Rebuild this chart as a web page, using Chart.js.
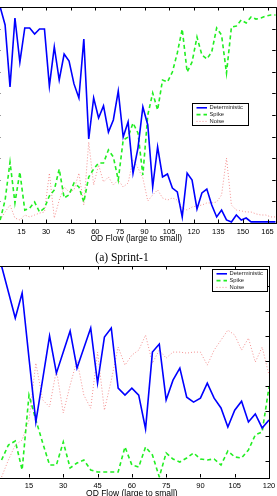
<!DOCTYPE html>
<html><head><meta charset="utf-8">
<script src="https://cdn.jsdelivr.net/npm/chart.js@4.4.1/dist/chart.umd.min.js"></script>
<style>
html,body{margin:0;padding:0;background:#fff;}
body{width:277px;height:496px;overflow:hidden;position:relative;}
#c1{position:absolute;left:-10px;top:0;}
#c2{position:absolute;left:-10px;top:258px;}
#cap{position:absolute;top:249px;left:0;width:244px;text-align:center;font-family:"Liberation Serif","Times New Roman",serif;font-size:11.5px;line-height:16px;color:#000;}
</style></head>
<body>
<canvas id="c1" width="300" height="252"></canvas>
<div id="cap">(a) Sprint-1</div>
<canvas id="c2" width="300" height="250"></canvas>
<script>
// ---------- data: Sprint-1 (top chart) ----------
const xFlows1 = [2,5,8,11,14,17,20,23,26,29,32,35,38,41,44,47,50,53,56,59,62,65,68,71,74,77,80,83,86,89,92,95,98,101,104,107,110,113,116,119,122,125,128,131,134,137,140,143,146,149,152,155,158,161,164,167,170];
const deterministic1 = [1.0,0.917,0.630,0.949,0.745,0.903,0.903,0.875,0.898,0.898,0.634,0.815,0.662,0.782,0.750,0.644,0.579,0.852,0.389,0.579,0.486,0.542,0.421,0.477,0.611,0.398,0.468,0.231,0.347,0.537,0.454,0.167,0.352,0.213,0.227,0.162,0.144,0.028,0.231,0.199,0.065,0.139,0.157,0.083,0.028,0.060,0.014,0.005,0.037,0.014,0.023,0.005,0.005,0.005,0.005,0.005,0.005];
const spike1 = [0.014,0.106,0.282,0.093,0.236,0.060,0.069,0.097,0.051,0.069,0.125,0.153,0.250,0.116,0.130,0.185,0.167,0.097,0.213,0.250,0.278,0.278,0.338,0.306,0.199,0.384,0.398,0.463,0.417,0.222,0.500,0.602,0.523,0.662,0.653,0.699,0.787,0.898,0.699,0.745,0.861,0.778,0.759,0.792,0.903,0.870,0.694,0.907,0.912,0.940,0.926,0.954,0.944,0.949,0.958,0.963,0.963];
const noise1 = [0.014,0.051,0.083,0.023,0.014,0.037,0.028,0.037,0.046,0.051,0.231,0.023,0.106,0.167,0.144,0.153,0.231,0.083,0.375,0.176,0.269,0.190,0.213,0.176,0.199,0.167,0.185,0.292,0.255,0.208,0.102,0.130,0.153,0.116,0.106,0.116,0.106,0.069,0.060,0.074,0.079,0.083,0.093,0.093,0.097,0.130,0.301,0.083,0.060,0.056,0.051,0.051,0.042,0.037,0.037,0.028,0.028];
const xTicks1 = [15,30,45,60,75,90,105,120,135,150,165];

// ---------- data: bottom chart ----------
const xFlows2 = [3,6,9,12,15,18,21,24,27,30,33,36,39,42,45,48,51,54,57,60,63,66,69,72,75,78,81,84,87,90,93,96,99,102,105,108,111,114,117,120];
const deterministic2 = [0.78,0.676,0.572,0.672,0.412,0.157,0.328,0.500,0.352,0.436,0.520,0.372,0.452,0.532,0.312,0.496,0.532,0.292,0.264,0.292,0.264,0.129,0.436,0.468,0.245,0.324,0.372,0.256,0.236,0.252,0.312,0.252,0.213,0.137,0.204,0.240,0.157,0.189,0.133,0.165];
const spike2 = [0.005,0.065,0.081,-0.035,0.264,0.165,0.073,-0.015,-0.015,0.077,-0.027,-0.007,0.005,-0.035,-0.043,-0.043,-0.043,-0.043,0.057,-0.015,-0.023,0.057,0.025,-0.063,0.033,0.009,-0.003,0.013,0.033,0.009,0.005,0.009,-0.015,0.041,0.017,0.013,0.045,0.105,0.117,0.296];
const noise2 = [-0.063,0.005,0.065,0.085,0.165,0.392,0.245,0.217,0.364,0.193,0.304,0.404,0.264,0.212,0.436,0.204,0.324,0.456,0.384,0.424,0.444,0.504,0.392,0.444,0.412,0.436,0.436,0.432,0.436,0.436,0.384,0.444,0.484,0.524,0.504,0.444,0.492,0.396,0.456,0.344];
const xTicks2 = [15,30,45,60,75,90,105,120];

const seriesNames = ['Deterministic','Spike','Noise'];
const SANS = '"Liberation Sans", Arial, Helvetica, sans-serif';

const boxTicks = {
  id:'boxTicks',
  afterDatasetsDraw(chart){
    const {ctx, chartArea:a, scales:{x,y}} = chart;
    const L = 3.5;
    ctx.save();
    ctx.strokeStyle = '#000'; ctx.lineWidth = 1; ctx.setLineDash([]);
    ctx.beginPath();
    x.ticks.forEach(t=>{
      const px = Math.round(x.getPixelForValue(t.value)) + 0.5;
      ctx.moveTo(px, a.bottom); ctx.lineTo(px, a.bottom - L);
      ctx.moveTo(px, a.top); ctx.lineTo(px, a.top + L);
    });
    y.ticks.forEach(t=>{
      const py = Math.round(y.getPixelForValue(t.value)) + 0.5;
      ctx.moveTo(a.left, py); ctx.lineTo(a.left + L, py);
      ctx.moveTo(a.right, py); ctx.lineTo(a.right - L, py);
    });
    ctx.stroke();
    ctx.strokeRect(Math.round(a.left)+0.5, Math.round(a.top)+0.5, Math.round(a.right)-Math.round(a.left), Math.round(a.bottom)-Math.round(a.top));
    ctx.restore();
  }
};

const boxLegend = {
  id:'boxLegend',
  afterDraw(chart, args, o){
    const {ctx, chartArea:a} = chart;
    const x0 = Math.round(a.right - o.right - o.width) + 0.5;
    const y0 = Math.round(a.top + o.top) + 0.5;
    ctx.save();
    ctx.fillStyle = '#fff';
    ctx.fillRect(x0, y0, o.width, o.height);
    ctx.strokeStyle = '#000'; ctx.lineWidth = 1; ctx.setLineDash([]);
    ctx.strokeRect(x0, y0, o.width, o.height);
    chart.data.datasets.forEach((ds,i)=>{
      const yy = y0 + o.rowTop + i*o.rowH;
      ctx.strokeStyle = ds.borderColor; ctx.lineWidth = ds.borderWidth;
      ctx.setLineDash(ds.borderDash || []);
      ctx.beginPath(); ctx.moveTo(x0+4, yy); ctx.lineTo(x0+14.5, yy); ctx.stroke();
      ctx.setLineDash([]);
      ctx.fillStyle = '#222';
      ctx.font = '5.8px ' + SANS;
      ctx.textBaseline = 'middle'; ctx.textAlign = 'left';
      ctx.fillText(ds.label, x0 + 17, yy);
    });
    ctx.restore();
  }
};

function makeDatasets(xs, det, spk, noi){
  return [
    {label:seriesNames[0], data: xs.map((x,i)=>({x, y:det[i]})), borderColor:'#0000ff', borderWidth:1.6, pointRadius:0, tension:0, fill:false},
    {label:seriesNames[1], data: xs.map((x,i)=>({x, y:spk[i]})), borderColor:'#22ee22', borderWidth:1.6, borderDash:[4,3], pointRadius:0, tension:0, fill:false},
    {label:seriesNames[2], data: xs.map((x,i)=>({x, y:noi[i]})), borderColor:'rgba(240,110,110,0.75)', borderWidth:1, borderDash:[1,2], pointRadius:0, tension:0, fill:false}
  ];
}

function makeChart(id, cfg){
  return new Chart(document.getElementById(id), {
    type:'line',
    data:{datasets: makeDatasets(cfg.xs, cfg.det, cfg.spk, cfg.noi)},
    options:{
      responsive:false, animation:false, devicePixelRatio:1,
      layout:{padding:cfg.pad},
      plugins:{legend:{display:false}, tooltip:{enabled:false}, boxLegend:cfg.legend},
      scales:{
        x:{type:'linear', min:cfg.xmin, max:cfg.xmax,
           afterBuildTicks:s=>{ s.ticks = cfg.xticks.map(v=>({value:v})); },
           afterFit:s=>{ s.height = 21; },
           grid:{display:false, drawTicks:false}, border:{display:false},
           ticks:{autoSkip:false, maxRotation:0, padding:4, color:'#000', font:{family:SANS, size:7.5}},
           title:{display:true, text:'OD Flow (large to small)', color:'#000', padding:{top:0,bottom:0}, font:{family:SANS, size:8.5}}},
        y:{type:'linear', min:cfg.ymin, max:cfg.ymax,
           ticks:{display:false, stepSize:0.1}, grid:{display:false, drawTicks:false}, border:{display:false},
           afterFit:s=>{ s.width = 0; }}
      }
    },
    plugins:[boxTicks, boxLegend]
  });
}

makeChart('c1', {xs:xFlows1, det:deterministic1, spk:spike1, noi:noise1, xticks:xTicks1,
  xmin:0, xmax:170, ymin:0, ymax:1,
  pad:{left:6.9, right:14.3, top:7, bottom:8},
  legend:{right:27.7, top:96, width:56, height:22, rowTop:4.3, rowH:6.8}});

makeChart('c2', {xs:xFlows2, det:deterministic2, spk:spike2, noi:noise2, xticks:xTicks2,
  xmin:0, xmax:120, ymin:-0.065, ymax:0.78,
  pad:{left:4.7, right:21, top:8, bottom:9.5},
  legend:{right:2, top:3, width:55, height:22, rowTop:4.3, rowH:6.8}});
</script>
</body></html>
